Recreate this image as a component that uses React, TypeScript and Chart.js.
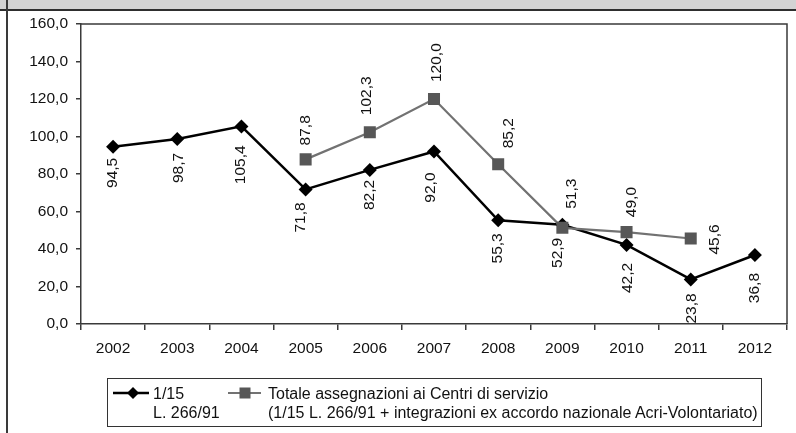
import React, { useEffect, useRef } from "react";
import { Chart, registerables } from "chart.js";

Chart.register(...registerables);

// ---- data ----
const years = ["2002", "2003", "2004", "2005", "2006", "2007", "2008", "2009", "2010", "2011", "2012"];
const quota115 = [94.5, 98.7, 105.4, 71.8, 82.2, 92.0, 55.3, 52.9, 42.2, 23.8, 36.8];
const totaleCentri = [null, null, null, 87.8, 102.3, 120.0, 85.2, 51.3, 49.0, 45.6, null];
const yMin = 0;
const yMax = 160;
const yStep = 20;
const legendQuota = ["1/15", "L. 266/91"];
const legendTotale = [
  "Totale assegnazioni ai Centri di servizio",
  "(1/15 L. 266/91 + integrazioni ex accordo nazionale Acri-Volontariato)",
];

// ---- label placement nudges (style only) ----
const quotaLabelGap = [11, 14, 19, 13, 10, 21, 13, 13, 18, 14, 18];
const quotaLabelDx = [0, 1, -1, -5, 0, -3, 0, -5, 1, 1, 0];
const totaleLabelGap = [0, 0, 0, 14, 17, 17, 16, 19, 15, -16, 0];
const totaleLabelDx = [0, 0, 0, 0, -3, 3, 11, 9, 5, 24, 0];

const FONT = '"Liberation Sans", Arial, sans-serif';
const FS = 15.5;
const LFS = 16;
const fmt = (v: number) => v.toFixed(1).replace(".", ",");

const vLabels = {
  id: "vLabels",
  afterDatasetsDraw(chart: any) {
    const ctx = chart.ctx;
    ctx.save();
    ctx.font = `${FS}px ${FONT}`;
    ctx.fillStyle = "#111";
    ctx.textBaseline = "middle";
    chart.data.datasets.forEach((ds: any, di: number) => {
      const meta = chart.getDatasetMeta(di);
      const below = ds.labelPos === "below";
      meta.data.forEach((pt: any, i: number) => {
        const v = ds.data[i];
        if (v == null) return;
        const gap = below ? quotaLabelGap[i] : totaleLabelGap[i];
        const dx = below ? quotaLabelDx[i] : totaleLabelDx[i];
        ctx.save();
        ctx.translate(pt.x + dx, below ? pt.y + gap : pt.y - gap);
        ctx.rotate(-Math.PI / 2);
        ctx.textAlign = below ? "right" : "left";
        ctx.fillText(fmt(v), 0, 0);
        ctx.restore();
      });
    });
    ctx.restore();
  },
};

const frame = {
  id: "frame",
  beforeDatasetsDraw(chart: any) {
    const { ctx, chartArea } = chart;
    ctx.save();
    ctx.strokeStyle = "#3a3a3a";
    ctx.lineWidth = 1.5;
    ctx.beginPath();
    ctx.moveTo(chartArea.left, chartArea.top);
    ctx.lineTo(chartArea.right, chartArea.top);
    ctx.lineTo(chartArea.right, chartArea.bottom);
    ctx.stroke();
    ctx.restore();
  },
};

function ChartCanvas() {
  const ref = useRef<HTMLCanvasElement>(null);
  useEffect(() => {
    if (!ref.current) return;
    const chart = new Chart(ref.current, {
      type: "line",
      data: {
        labels: years,
        datasets: [
          {
            label: "1/15 L. 266/91",
            data: quota115,
            borderColor: "#000",
            backgroundColor: "#000",
            borderWidth: 2.5,
            pointStyle: "rectRot",
            pointRadius: 7,
            pointBorderWidth: 0,
            pointBackgroundColor: "#000",
            tension: 0,
            order: 2,
            labelPos: "below",
          } as any,
          {
            label: "Totale assegnazioni ai Centri di servizio",
            data: totaleCentri,
            borderColor: "#727272",
            backgroundColor: "#575757",
            borderWidth: 2.2,
            pointStyle: "rect",
            pointRadius: 8.5,
            pointBorderWidth: 0,
            pointBackgroundColor: "#575757",
            tension: 0,
            spanGaps: false,
            order: 1,
            labelPos: "above",
          } as any,
        ],
      },
      options: {
        animation: false,
        responsive: false,
        devicePixelRatio: 1,
        layout: { padding: { left: 0, top: 24, right: 9, bottom: 69 } },
        plugins: { legend: { display: false }, tooltip: { enabled: false } },
        scales: {
          x: {
            offset: true,
            grid: {
              offset: true,
              drawOnChartArea: false,
              drawTicks: true,
              tickLength: 6,
              color: "#3a3a3a",
              lineWidth: 1.5,
            },
            border: { display: true, color: "#3a3a3a", width: 1.5 },
            ticks: {
              font: { family: FONT, size: FS },
              color: "#111",
              padding: 9,
              maxRotation: 0,
              autoSkip: false,
            },
            afterFit(scale: any) {
              scale.height = 40;
            },
          },
          y: {
            min: yMin,
            max: yMax,
            grid: {
              drawOnChartArea: false,
              drawTicks: true,
              tickLength: 5,
              color: "#3a3a3a",
              lineWidth: 1.5,
            },
            border: { display: true, color: "#3a3a3a", width: 1.5 },
            ticks: {
              stepSize: yStep,
              font: { family: FONT, size: FS },
              color: "#111",
              padding: 8,
              callback: (v: any) => fmt(Number(v)),
            },
            afterFit(scale: any) {
              scale.width = 81;
            },
          },
        },
      } as any,
      plugins: [vLabels, frame],
    });
    return () => chart.destroy();
  }, []);
  return <canvas ref={ref} width={796} height={433} style={{ position: "absolute", left: 0, top: 0 }} />;
}

const textStyle: React.CSSProperties = {
  position: "absolute",
  fontFamily: FONT,
  fontSize: LFS,
  lineHeight: "19px",
  color: "#111",
  whiteSpace: "nowrap",
};

export default function App() {
  return (
    <div
      style={{
        position: "absolute",
        left: 0,
        top: 0,
        width: 796,
        height: 433,
        background: "#fff",
        overflow: "hidden",
      }}
    >
      {/* top grey band */}
      <div style={{ position: "absolute", left: 0, top: 0, width: 796, height: 9, background: "#d3d3d3" }} />
      <div style={{ position: "absolute", left: 0, top: 9, width: 796, height: 2, background: "#2e2e2e" }} />
      {/* left border */}
      <div style={{ position: "absolute", left: 6, top: 0, width: 2, height: 433, background: "#3a3a3a" }} />
      <ChartCanvas />
      {/* legend */}
      <div
        style={{
          position: "absolute",
          left: 107,
          top: 378,
          width: 655,
          height: 49,
          boxSizing: "border-box",
          border: "1.5px solid #333",
        }}
      />
      <svg style={{ position: "absolute", left: 113, top: 386 }} width={36} height={14}>
        <line x1={0} y1={7} x2={36} y2={7} stroke="#000" strokeWidth={2.5} />
        <polygon points="20,1 26,7 20,13 14,7" fill="#000" />
      </svg>
      <div style={{ ...textStyle, left: 153, top: 383.5 }}>{legendQuota[0]}</div>
      <div style={{ ...textStyle, left: 153, top: 402.5 }}>{legendQuota[1]}</div>
      <svg style={{ position: "absolute", left: 228, top: 386 }} width={33} height={14}>
        <line x1={0} y1={7} x2={33} y2={7} stroke="#727272" strokeWidth={2.2} />
        <rect x={11.5} y={1.5} width={11} height={11} fill="#575757" />
      </svg>
      <div style={{ ...textStyle, left: 268, top: 383.5 }}>{legendTotale[0]}</div>
      <div style={{ ...textStyle, left: 268, top: 402.5 }}>{legendTotale[1]}</div>
    </div>
  );
}
